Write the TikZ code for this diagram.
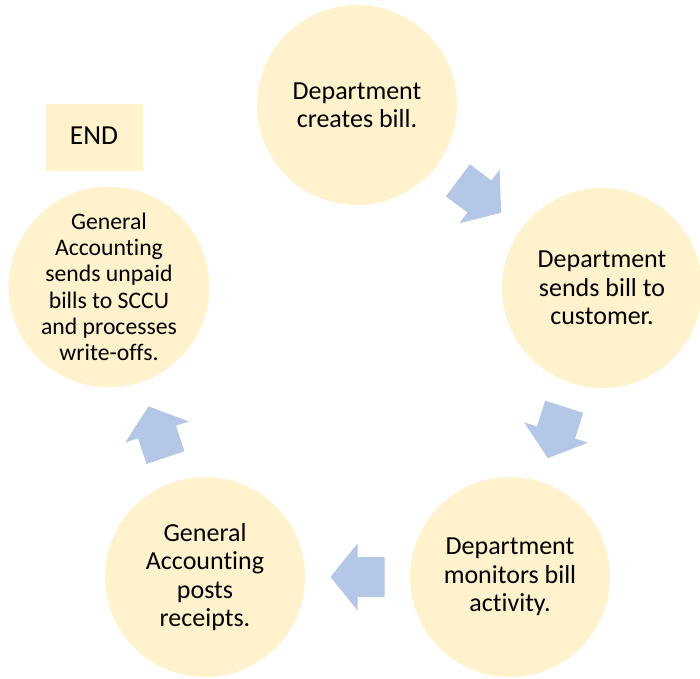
\documentclass[tikz,border=0pt]{standalone}
\usepackage{fontspec}
\setmainfont{Carlito}[Ligatures=NoCommon]
\usepackage{xcolor}
\usepackage{tikz}
\usetikzlibrary{
  calc,
  shapes
}
\definecolor{stagefill}{HTML}{FFF2CC}
\definecolor{flowblue}{HTML}{B4C7E7}
\tikzset{
  stage/.style=
  {
    circle,
    fill=stagefill,
    minimum size=200pt,
    inner sep=0pt,
    align=center,
    font=\fontsize{26}{28.4}\selectfont
  },
  smallstage/.style=
  {
    stage,
    font=\fontsize{23.7}{26.3}\selectfont
  },
  endbox/.style=
  {
    rectangle,
    fill=stagefill,
    minimum width=97pt,
    minimum height=67pt,
    inner sep=0pt,
    font=\fontsize{27.5}{30}\selectfont
  },
  flowarrow/.pic=
  {
    \fill[flowblue] (-27,-20) -- (0,-20) -- (0,-33.5) -- (27,0)
      -- (0,33.5) -- (0,20) -- (-27,20) -- cycle;
  }
}

\begin{document}
\begin{tikzpicture}[x=1pt, y=-1pt]
          \useasboundingbox (0,0) rectangle (700,678);
          % stages
          \node[stage] (create) at (357,105) {Department\\creates bill.};
          \node[stage] (send) at (602,288) {Department\\sends bill to\\customer.};
          \node[stage] (monitor) at (510,577) {Department\\monitors bill\\activity.};
          \node[stage] (post) at (205,577) {General\\Accounting\\posts\\receipts.};
          \node[smallstage] (writeoff) at (109,287) {General\\Accounting\\sends unpaid\\bills to SCCU\\and processes\\write-offs.};
          \node[endbox] (end) at (94,137) {\raisebox{2pt}{END}\hspace{4pt}};
          % block arrows
          \path ($(create)!0.5!(send)$) pic[rotate=-36.8] {flowarrow};
          \path ($(send)!0.5!(monitor)$) pic[rotate=-107.7] {flowarrow};
          \path ($(monitor)!0.5!(post)$) pic[rotate=180] {flowarrow};
          \path ($(post)!0.5!(writeoff)$) pic[rotate=108.3] {flowarrow};
        \end{tikzpicture}
\end{document}
